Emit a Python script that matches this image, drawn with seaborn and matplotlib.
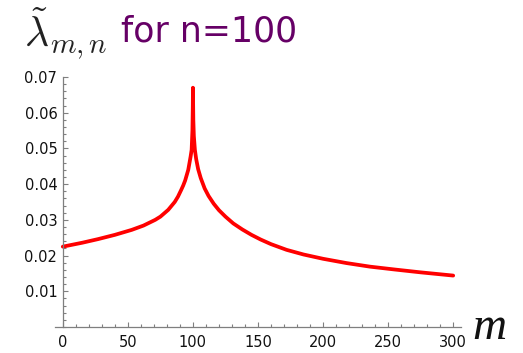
import numpy as np
import pandas as pd
import matplotlib
matplotlib.use("Agg")
import matplotlib.pyplot as plt
import seaborn as sns
from matplotlib.ticker import MultipleLocator, FixedLocator

# ---- data ----
m_vals = [0, 15, 27, 40, 53, 62, 71, 75, 81, 86, 88.5, 91, 92.5, 94, 96.4, 98.2, 99, 99.6,
          99.9, 100,
          100.1, 100.3, 100.7, 101.5, 102.5, 104, 106, 109, 112, 116, 120, 125, 131, 138,
          145, 152, 160, 172, 185, 200, 218, 236, 255, 275, 300]
lam_vals = [0.0225, 0.0236, 0.0246, 0.0258, 0.0272, 0.0284, 0.0300, 0.0309, 0.0328, 0.0350,
            0.0365, 0.0384, 0.0396, 0.0410, 0.0440, 0.0477, 0.0496, 0.0550, 0.0620, 0.0670,
            0.0640, 0.0580, 0.0535, 0.0496, 0.0470, 0.0442, 0.0417, 0.0388, 0.0367, 0.0345,
            0.0327, 0.0309, 0.0290, 0.0273, 0.0258, 0.0245, 0.0232, 0.0216, 0.0203, 0.0191,
            0.0179, 0.0169, 0.0161, 0.0153, 0.0144]
x_ticks = [0, 50, 100, 150, 200, 250, 300]
y_ticks = [0.01, 0.02, 0.03, 0.04, 0.05, 0.06, 0.07]
y_tick_labels = ["0.01", "0.02", "0.03", "0.04", "0.05", "0.06", "0.07"]
title_math = r"$\tilde{\lambda}_{m,n}$"
title_text = "for n=100"
x_label = "m"

df = pd.DataFrame({"m": m_vals, "lam": lam_vals})

sns.set_theme(style="white")
plt.rcParams["font.family"] = ["DejaVu Sans"]
plt.rcParams["mathtext.fontset"] = "cm"

fig = plt.figure(figsize=(5.23, 3.53), dpi=100)
W, H = 523, 353
ax = fig.add_axes([55 / W, 1 - 327 / H, (461 - 55) / W, (327 - 77) / H])

sns.lineplot(data=df, x="m", y="lam", ax=ax, color="#ff0000", linewidth=2.7,
             sort=False, estimator=None)

ax.set_xlim(-6, 306)
ax.set_ylim(0, 0.07)
ax.set_xlabel("")
ax.set_ylabel("")

for s in ["top", "right"]:
    ax.spines[s].set_visible(False)
ax.spines["left"].set_position(("data", 0))
for s in ["left", "bottom"]:
    ax.spines[s].set_color("#7f7f7f")
    ax.spines[s].set_linewidth(0.9)

ax.xaxis.set_major_locator(FixedLocator(x_ticks))
ax.xaxis.set_minor_locator(MultipleLocator(10))
ax.yaxis.set_major_locator(FixedLocator(y_ticks))
ax.set_yticklabels(y_tick_labels)
ax.yaxis.set_minor_locator(MultipleLocator(0.002))
ax.set_xticklabels([str(v) for v in x_ticks])

ax.tick_params(which="both", direction="in", color="#7f7f7f", width=0.8,
               bottom=True, left=True, top=False, right=False)
ax.tick_params(which="major", length=3.5)
ax.tick_params(which="minor", length=2)
ax.tick_params(axis="y", which="major", labelsize=10.5, pad=4, labelcolor="#111111")
ax.tick_params(axis="x", which="major", labelsize=10.5, pad=6, labelcolor="#111111")
ax.grid(False)

fig.text(472 / W, 1 - 339 / H, x_label, family="Liberation Serif", style="italic",
         fontsize=34, va="baseline", ha="left", color="#111111")

fig.text(24 / W, 1 - 46 / H, title_math, fontsize=30, va="baseline", ha="left",
         color="#222222")
fig.text(121 / W, 1 - 42 / H, title_text, fontsize=25, va="baseline", ha="left",
         color="#660066")

fig.savefig("out.png", dpi=100)
